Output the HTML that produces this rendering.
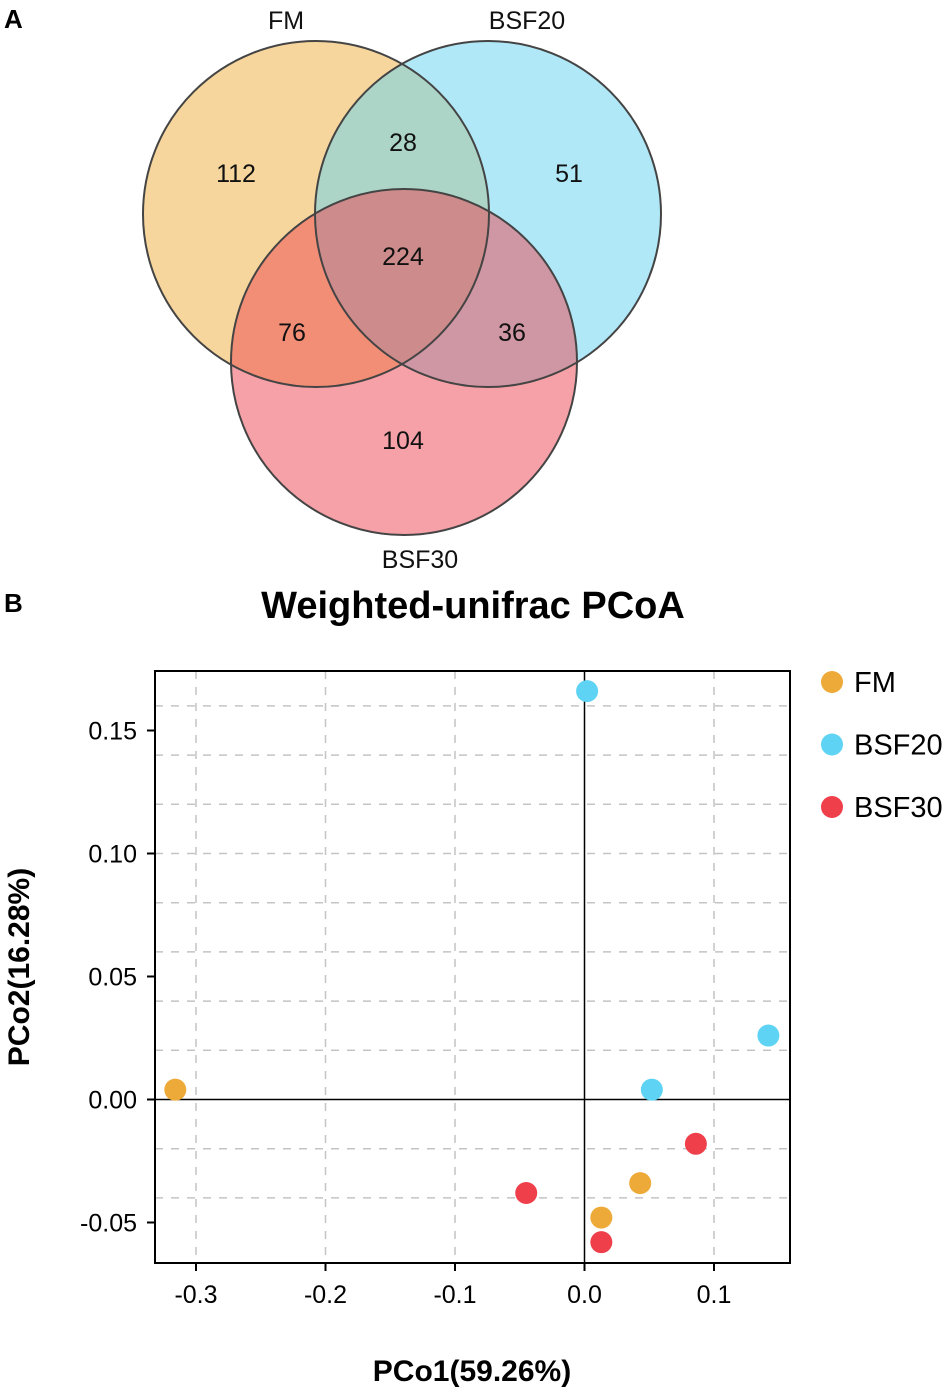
<!DOCTYPE html>
<html><head><meta charset="utf-8"><style>
body{margin:0;background:#fff;}
svg{display:block;font-family:"Liberation Sans",Arial,sans-serif;}
</style></head><body>
<svg id="fig" width="945" height="1390" viewBox="0 0 945 1390">
<text x="4" y="28" font-size="26" font-weight="bold">A</text>
<g>
<circle cx="316" cy="214" r="173" fill="#F0AE3C" fill-opacity="0.5"/>
<circle cx="488" cy="214" r="173" fill="#62D2F2" fill-opacity="0.5"/>
<circle cx="404" cy="362" r="173" fill="#EE4450" fill-opacity="0.5"/>
<circle cx="316" cy="214" r="173" fill="none" stroke="#444" stroke-width="2"/>
<circle cx="488" cy="214" r="173" fill="none" stroke="#444" stroke-width="2"/>
<circle cx="404" cy="362" r="173" fill="none" stroke="#444" stroke-width="2"/>
<g font-size="25" text-anchor="middle" fill="#111">
<text x="286" y="29">FM</text>
<text x="527" y="29">BSF20</text>
<text x="420" y="568">BSF30</text>
<text x="236" y="182">112</text>
<text x="403" y="151">28</text>
<text x="569" y="182">51</text>
<text x="403" y="265">224</text>
<text x="292" y="341">76</text>
<text x="512" y="341">36</text>
<text x="403" y="449">104</text>
</g>
</g>
<text x="4" y="612" font-size="26" font-weight="bold">B</text>
<text x="473" y="618" font-size="38" font-weight="bold" text-anchor="middle">Weighted-unifrac PCoA</text>
<g id="plot"></g>
<text x="472" y="1381" font-size="30" font-weight="bold" text-anchor="middle">PCo1(59.26%)</text>
<text transform="translate(29,967) rotate(-90)" font-size="30" font-weight="bold" text-anchor="middle">PCo2(16.28%)</text>
</svg>
<script>
const groups = ["FM","BSF20","BSF30"];
const colors = ["#EEAA38","#5ED3F3","#EE3F4B"];
const fmX = [-0.316, 0.013, 0.043];
const fmY = [0.004, -0.048, -0.034];
const bsf20X = [0.002, 0.052, 0.142];
const bsf20Y = [0.166, 0.004, 0.026];
const bsf30X = [-0.045, 0.086, 0.013];
const bsf30Y = [-0.038, -0.018, -0.058];
const xTicks = [-0.3,-0.2,-0.1,0.0,0.1];
const xTickLabels = ["-0.3","-0.2","-0.1","0.0","0.1"];
const yTicks = [-0.05,0.00,0.05,0.10,0.15];
const yTickLabels = ["-0.05","0.00","0.05","0.10","0.15"];
const yGrid = [-0.04,-0.02,0.02,0.04,0.06,0.08,0.10,0.12,0.14,0.16];

const L=155,R=790,T=671,B=1263;
const xs=v=>584.5+v*1295;
const ys=v=>1099.5-v*2460;
const NS="http://www.w3.org/2000/svg";
const g=document.getElementById('plot');
function mk(t,a,p){const e=document.createElementNS(NS,t);for(const k in a)e.setAttribute(k,a[k]);(p||g).appendChild(e);return e;}
yGrid.forEach(v=>{const e=mk('line',{x1:L,x2:R,y1:ys(v),y2:ys(v),stroke:'#c4c4c4','stroke-width':1.5,'stroke-dasharray':'8,8'});

});
xTicks.forEach(v=>{if(v===0)return;const e=mk('line',{x1:xs(v),x2:xs(v),y1:T,y2:B,stroke:'#c4c4c4','stroke-width':1.5,'stroke-dasharray':'8,8'});

});
const zx=mk('line',{x1:xs(0),x2:xs(0),y1:T,y2:B,stroke:'#000','stroke-width':1.5});


const zy=mk('line',{x1:L,x2:R,y1:ys(0),y2:ys(0),stroke:'#000','stroke-width':1.5});


const fr=mk('rect',{x:L,y:T,width:R-L,height:B-T,fill:'none',stroke:'#000','stroke-width':2});


xTicks.forEach((v,i)=>{mk('line',{x1:xs(v),x2:xs(v),y1:B,y2:B+8,stroke:'#000','stroke-width':2});
const t=mk('text',{x:xs(v),y:B+40,'font-size':25,'text-anchor':'middle'});t.textContent=xTickLabels[i];

});
yTicks.forEach((v,i)=>{mk('line',{x1:L-8,x2:L,y1:ys(v),y2:ys(v),stroke:'#000','stroke-width':2});
const t=mk('text',{x:L-18,y:ys(v)+9,'font-size':25,'text-anchor':'end'});t.textContent=yTickLabels[i];

});
const series=[[fmX,fmY],[bsf20X,bsf20Y],[bsf30X,bsf30Y]];
series.forEach((s,gi)=>{s[0].forEach((x,i)=>{const c=mk('circle',{cx:xs(x),cy:ys(s[1][i]),r:11,fill:colors[gi]});

});});
groups.forEach((n,i)=>{const y=682+i*62.5;
const c=mk('circle',{cx:832,cy:y,r:11,fill:colors[i]});


const t=mk('text',{x:854,y:y+10,'font-size':29});t.textContent=n;

});
</script>
</body></html>
